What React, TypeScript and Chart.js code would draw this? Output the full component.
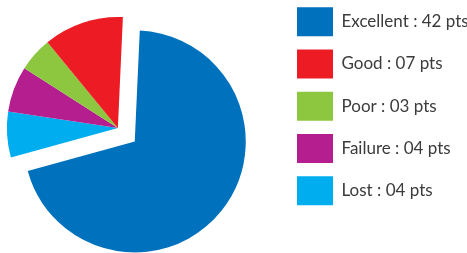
import React, { useEffect, useRef } from "react";
import { Chart, registerables } from "chart.js";

Chart.register(...registerables);

// Legend order
const categories = ["Excellent", "Good", "Poor", "Failure", "Lost"];
const points = [42, 7, 3, 4, 4];
const colors = ["#0071BC", "#ED1C24", "#8DC63F", "#B41E8E", "#00AEEF"];
// Clockwise drawing order of the slices (indexes into the arrays above)
const drawOrder = [0, 4, 3, 2, 1];

const EXPLODE = 21.6;

const labelFor = (i: number) =>
  `${categories[i]} : ${String(points[i]).padStart(2, "0")} pts`;

const explodeFirst = {
  id: "explodeFirst",
  afterDatasetUpdate(chart: any, args: any) {
    const arc = args.meta.data[0];
    if (!arc) return;
    const mid = (arc.startAngle + arc.endAngle) / 2;
    arc.x += Math.cos(mid) * EXPLODE;
    arc.y += Math.sin(mid) * EXPLODE;
  },
};

export default function App() {
  const ref = useRef<HTMLCanvasElement | null>(null);

  useEffect(() => {
    document.body.style.margin = "0";
    const canvas = ref.current;
    if (!canvas) return;
    const chart = new Chart(canvas, {
      type: "pie",
      data: {
        labels: drawOrder.map((i) => labelFor(i)),
        datasets: [
          {
            data: drawOrder.map((i) => points[i]),
            backgroundColor: drawOrder.map((i) => colors[i]),
            borderWidth: 0,
          },
        ],
      },
      options: {
        responsive: false,
        animation: false,
        rotation: 2.6,
        radius: 111,
        layout: { padding: 0 },
        plugins: {
          legend: {
            position: "right",
            align: "start",
            maxWidth: 183.25,
            labels: {
              boxWidth: 36,
              boxHeight: 29,
              padding: 13.25,
              color: "#3b3b3b",
              font: { family: "Lato", size: 17 },
              sort: (a: any, b: any) => drawOrder[a.index] - drawOrder[b.index],
            },
          },
          tooltip: { enabled: false },
        },
      },
      plugins: [explodeFirst],
    } as any);
    return () => chart.destroy();
  }, []);

  return (
    <div style={{ width: 467, height: 253, overflow: "hidden", position: "relative" }}>
      <canvas
        ref={ref}
        width={515}
        height={268}
        style={{ position: "absolute", left: -48, top: -6 }}
      />
    </div>
  );
}
